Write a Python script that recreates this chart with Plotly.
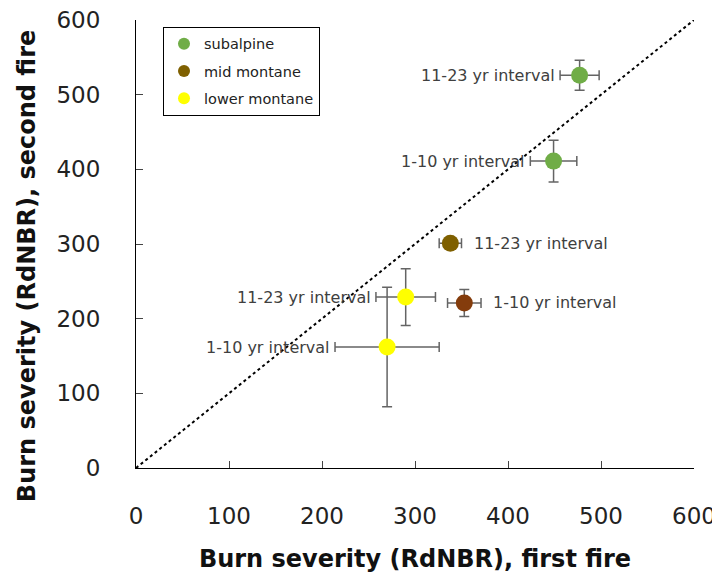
import plotly.graph_objects as go

zones = ["subalpine", "subalpine", "mid montane", "mid montane", "lower montane", "lower montane"]
intervals = ["11-23 yr interval", "1-10 yr interval", "11-23 yr interval", "1-10 yr interval",
             "11-23 yr interval", "1-10 yr interval"]
first_fire = [477, 449, 338, 353, 290, 270]
second_fire = [526, 411, 301, 221, 229, 162]
first_err = [21, 25, 12, 18, 32, 56]
second_err = [20, 28, 4, 18, 38, 80]
point_colors = ["#70AD47", "#70AD47", "#7F6000", "#843C0C", "#FFFF00", "#FFFF00"]
label_side = ["left", "left", "right", "right", "left", "left"]

legend_names = ["subalpine", "mid montane", "lower montane"]
legend_colors = ["#70AD47", "#7F6000", "#FFFF00"]

axis_ticks = [0, 100, 200, 300, 400, 500, 600]
FONT = "DejaVu Sans"

fig = go.Figure()

# 1:1 line
fig.add_trace(go.Scatter(x=[0, 600], y=[0, 600], mode="lines",
                         line=dict(color="black", width=2, dash="dot"),
                         showlegend=False, hoverinfo="skip"))

for i in range(len(first_fire)):
    fig.add_trace(go.Scatter(
        x=[first_fire[i]], y=[second_fire[i]], mode="markers",
        marker=dict(size=17, color=point_colors[i]),
        error_x=dict(type="data", array=[first_err[i]], color="#646464", thickness=1.5, width=5),
        error_y=dict(type="data", array=[second_err[i]], color="#646464", thickness=1.5, width=5),
        showlegend=False))
    if label_side[i] == "left":
        fig.add_annotation(x=first_fire[i] - first_err[i], y=second_fire[i], text=intervals[i],
                           xanchor="right", yanchor="middle", xshift=-3, showarrow=False,
                           font=dict(family=FONT, size=16, color="#404040"))
    else:
        fig.add_annotation(x=first_fire[i] + first_err[i], y=second_fire[i], text=intervals[i],
                           xanchor="left", yanchor="middle", xshift=10, showarrow=False,
                           font=dict(family=FONT, size=16, color="#404040"))

for k, (name, col) in enumerate(zip(legend_names, legend_colors)):
    fig.add_trace(go.Scatter(x=[None], y=[None], mode="markers", name=name,
                             legendgroup="g%d" % k,
                             marker=dict(size=13, color=col)))

# y-axis title as a rotated annotation
fig.add_annotation(x=-0.195, y=0.451, xref="paper", yref="paper",
                   text="<b>Burn severity (RdNBR), second fire</b>", textangle=-90,
                   xanchor="center", yanchor="middle", showarrow=False,
                   font=dict(family=FONT, size=24, color="#111111"))

fig.update_layout(
    width=712, height=572,
    margin=dict(l=128, r=26, t=12, b=112),
    paper_bgcolor="white", plot_bgcolor="white",
    font=dict(family=FONT, color="#222222"),
    legend=dict(x=(163 - 8 - 128) / 558, y=0.985, xanchor="left", yanchor="top",
                bordercolor="black", borderwidth=1, bgcolor="white",
                font=dict(family=FONT, size=14.5, color="#222222"),
                itemsizing="constant", traceorder="grouped", tracegroupgap=5.5),
)
fig.update_xaxes(range=[0, 600], tickvals=axis_ticks, ticks="inside", ticklen=7,
                 showline=True, linecolor="black", linewidth=1, showgrid=False, zeroline=False,
                 automargin=False, ticklabelstandoff=27, ticklabeloverflow="allow",
                 tickfont=dict(family=FONT, size=23, color="#222222"),
                 title=dict(text="<b>Burn severity (RdNBR), first fire</b>",
                            font=dict(family=FONT, size=24, color="#111111"), standoff=22))
fig.update_yaxes(range=[0, 600], tickvals=axis_ticks, ticks="inside", ticklen=7,
                 showline=True, linecolor="black", linewidth=1, showgrid=False, zeroline=False,
                 automargin=False, ticklabeloverflow="allow", ticklabelstandoff=30,
                 tickfont=dict(family=FONT, size=23, color="#222222"))

fig.write_html("out.html")
